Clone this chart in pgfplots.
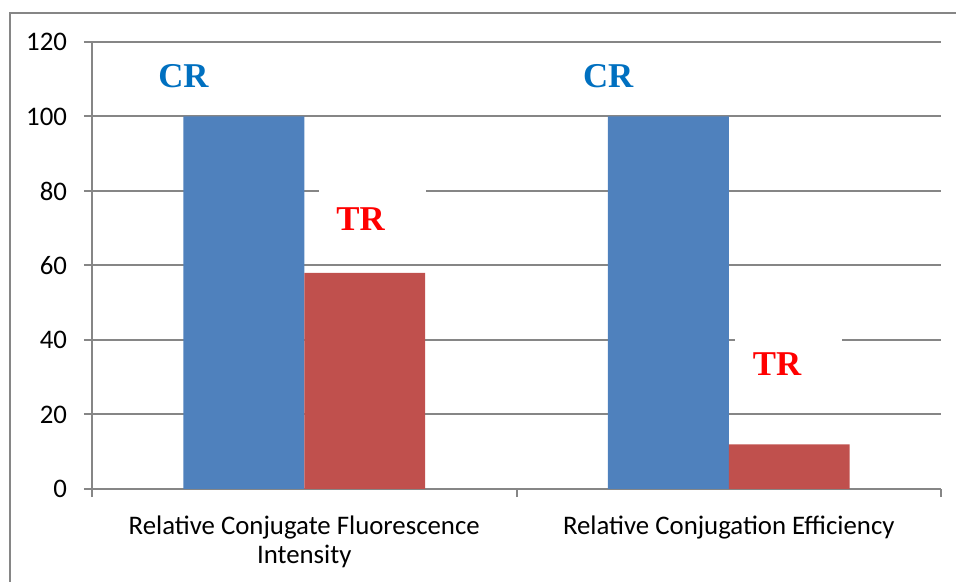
\documentclass[border=0pt]{standalone}
\usepackage{pgfplots}
\pgfplotsset{compat=1.18}
\usepackage{fontspec}
\setmainfont{Carlito}
\newfontfamily\serifb{Liberation Serif}
\definecolor{gridgray}{HTML}{868686}
\definecolor{barblue}{HTML}{4F81BD}
\definecolor{barred}{HTML}{C0504D}
\definecolor{crblue}{HTML}{0070C0}
\definecolor{trred}{HTML}{FF0000}
\begin{document}
\begin{tikzpicture}
\useasboundingbox (-46pt,-46.5pt) rectangle (432pt,244.5pt);
\begin{axis}[
  at={(0,0)}, anchor=south west, scale only axis,
  width=424.5pt, height=223.5pt,
  xmin=-0.5, xmax=1.5, ymin=0, ymax=120,
  ytick={0,20,...,120},
  xtick={-0.5,0.5,1.5},
  xticklabels={},
  extra x ticks={0,1},
  extra x tick labels={{Relative Conjugate Fluorescence\\Intensity},{Relative Conjugation Efficiency}},
  extra x tick style={grid=none, major tick length=0pt},
  /pgf/number format/assume math mode=true,
  ticklabel style={font=\fontsize{13.4}{14.6}\selectfont},
  xticklabel style={align=center, anchor=north, yshift=-10pt},
  yticklabel style={xshift=-5pt},
  ymajorgrids, grid style={draw=gridgray, line width=1pt},
  axis x line*=bottom, axis y line*=left,
  axis line style={draw=gridgray, line width=1pt},
  tick align=outside, major tick length=4pt,
  tick style={draw=gridgray, line width=1pt},
]
\addplot[ybar, bar width=0.285, bar shift=-0.1425, fill=barblue, draw=none] coordinates {(0,100) (1,100)};
\addplot[ybar, bar width=0.285, bar shift=0.1425, fill=barred, draw=none] coordinates {(0,58) (1,12)};
\fill[white] (axis cs:0.0348,64) rectangle (axis cs:0.2868,83);
\fill[white] (axis cs:1.0147,26) rectangle (axis cs:1.2668,42);
\node[font=\serifb\bfseries\fontsize{17.4}{20}\selectfont, text=crblue, anchor=base, inner sep=0pt] at (axis cs:-0.2845,107.65) {CR};
\node[font=\serifb\bfseries\fontsize{17.4}{20}\selectfont, text=crblue, anchor=base, inner sep=0pt] at (axis cs:0.716,107.65) {CR};
\node[font=\serifb\bfseries\fontsize{17.4}{20}\selectfont, text=trred, anchor=base, inner sep=0pt] at (axis cs:0.1325,69.34) {TR};
\node[font=\serifb\bfseries\fontsize{17.4}{20}\selectfont, text=trred, anchor=base, inner sep=0pt] at (axis cs:1.1137,30.34) {TR};
\end{axis}
\draw[gridgray, line width=1pt] (-41pt,-50pt) -- (-41pt,238pt) -- (440pt,238pt);
\end{tikzpicture}
\end{document}
